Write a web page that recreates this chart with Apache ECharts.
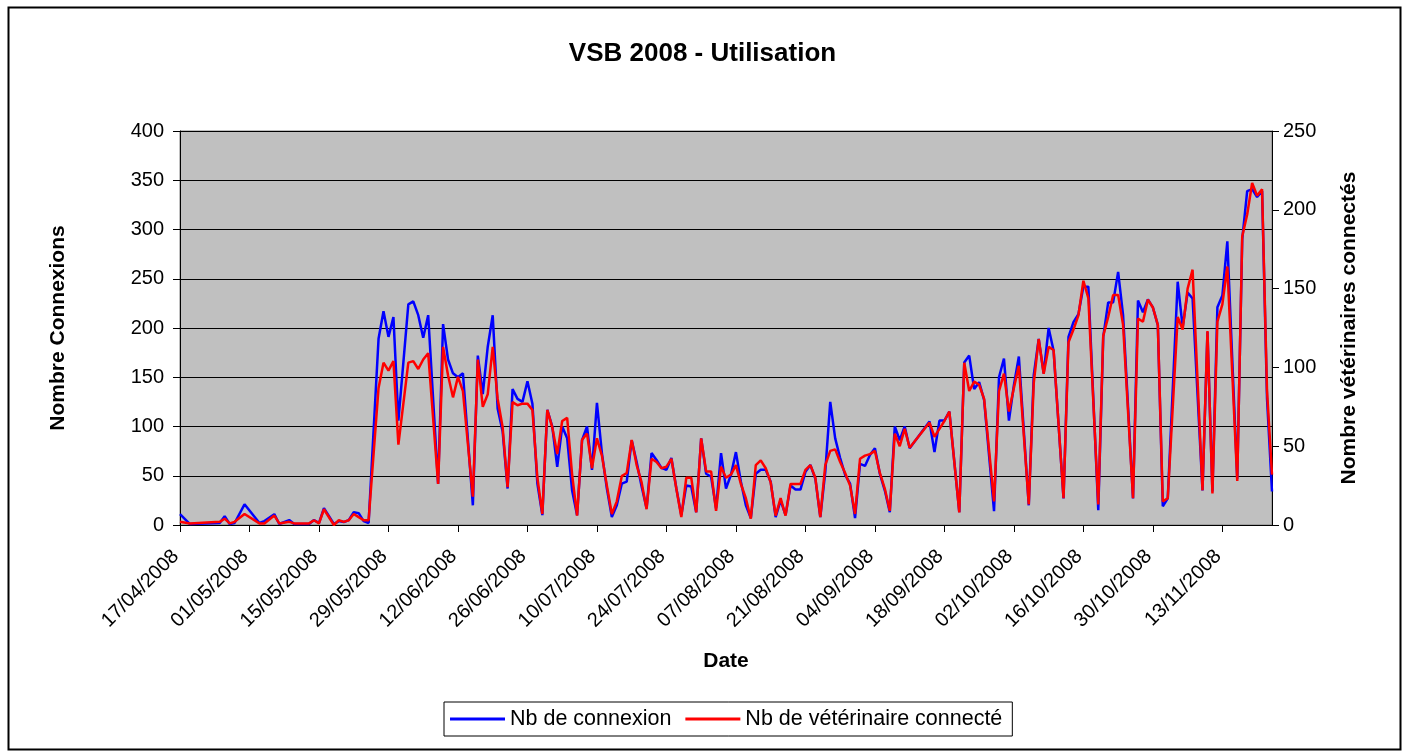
<!DOCTYPE html>
<html>
<head>
<meta charset="utf-8">
<script src="https://cdn.jsdelivr.net/npm/echarts@6/dist/echarts.min.js"></script>
<style>html,body{margin:0;padding:0;background:#fff;}#chart{width:1405px;height:754px;}</style>
</head>
<body>
<div id="chart"></div>
<script>
const startDate = '17/04/2008';
const endDate = '23/11/2008';
const tickIntervalDays = 14;

const dates = [
'17/04/2008','19/04/2008','25/04/2008','26/04/2008','27/04/2008','28/04/2008','30/04/2008',
'03/05/2008','04/05/2008','06/05/2008','07/05/2008','09/05/2008','10/05/2008','13/05/2008','14/05/2008','15/05/2008','16/05/2008','18/05/2008','19/05/2008','20/05/2008','21/05/2008','22/05/2008','23/05/2008','24/05/2008','25/05/2008','27/05/2008','28/05/2008','29/05/2008','30/05/2008','31/05/2008',
'02/06/2008','03/06/2008','04/06/2008','05/06/2008','06/06/2008','08/06/2008','09/06/2008','10/06/2008','11/06/2008','12/06/2008','13/06/2008','15/06/2008','16/06/2008','17/06/2008','18/06/2008','19/06/2008','20/06/2008','21/06/2008','22/06/2008','23/06/2008','24/06/2008','25/06/2008','26/06/2008','27/06/2008','28/06/2008','29/06/2008','30/06/2008',
'01/07/2008','02/07/2008','03/07/2008','04/07/2008','05/07/2008','06/07/2008','07/07/2008','08/07/2008','09/07/2008','10/07/2008','11/07/2008','12/07/2008','13/07/2008','14/07/2008','15/07/2008','16/07/2008','17/07/2008','18/07/2008','19/07/2008','20/07/2008','21/07/2008','22/07/2008','23/07/2008','24/07/2008','25/07/2008','26/07/2008','27/07/2008','28/07/2008','29/07/2008','30/07/2008','31/07/2008',
'01/08/2008','02/08/2008','03/08/2008','04/08/2008','05/08/2008','06/08/2008','07/08/2008','08/08/2008','09/08/2008','10/08/2008','11/08/2008','12/08/2008','13/08/2008','14/08/2008','15/08/2008','16/08/2008','17/08/2008','18/08/2008','19/08/2008','20/08/2008','21/08/2008','22/08/2008','23/08/2008','24/08/2008','25/08/2008','26/08/2008','27/08/2008','28/08/2008','29/08/2008','30/08/2008','31/08/2008',
'01/09/2008','02/09/2008','03/09/2008','04/09/2008','05/09/2008','06/09/2008','07/09/2008','08/09/2008','09/09/2008','10/09/2008','11/09/2008','15/09/2008','16/09/2008','17/09/2008','18/09/2008','19/09/2008','21/09/2008','22/09/2008','23/09/2008','24/09/2008','25/09/2008','26/09/2008','28/09/2008','29/09/2008','30/09/2008',
'01/10/2008','02/10/2008','03/10/2008','05/10/2008','06/10/2008','07/10/2008','08/10/2008','09/10/2008','10/10/2008','12/10/2008','13/10/2008','14/10/2008','15/10/2008','16/10/2008','17/10/2008','19/10/2008','20/10/2008','21/10/2008','22/10/2008','23/10/2008','24/10/2008','26/10/2008','27/10/2008','28/10/2008','29/10/2008','30/10/2008','31/10/2008',
'01/11/2008','02/11/2008','04/11/2008','05/11/2008','06/11/2008','07/11/2008','09/11/2008','10/11/2008','11/11/2008','12/11/2008','13/11/2008','14/11/2008','16/11/2008','17/11/2008','18/11/2008','19/11/2008','20/11/2008','21/11/2008','22/11/2008','23/11/2008'
];

const connexions = [
11,1,2,9,1,2,21,
2,4,11,1,5,1,1,5,2,17,1,4,3,5,13,12,4,2,189,217,191,211,106,
224,227,213,190,213,42,204,168,154,150,154,20,172,133,181,213,118,95,37,138,128,125,146,123,42,10,117,
100,59,100,88,35,10,86,100,56,124,73,37,8,20,42,44,86,64,39,17,73,66,58,56,68,37,10,40,39,13,88,
52,49,17,73,37,51,74,44,20,7,52,56,56,44,8,25,10,40,36,36,54,61,47,8,54,125,88,68,51,42,7,
62,60,71,78,52,35,13,100,86,100,78,105,74,106,106,115,13,165,172,138,145,127,14,150,169,
106,142,171,20,152,189,154,200,177,27,191,206,214,242,242,15,191,226,226,257,213,27,228,216,229,221,203,
19,27,247,201,236,230,35,196,34,221,233,288,47,290,339,341,333,339,128,34
];

const veterinaires = [
2,1,2,4,1,2,7,
1,1,6,1,2,1,1,3,1,10,0,3,2,3,7,5,3,3,87,103,98,104,51,
103,104,99,105,109,26,113,95,81,94,85,18,105,75,83,113,80,62,24,78,76,77,77,73,30,7,73,
62,45,66,68,32,6,54,58,36,55,44,25,7,15,31,33,54,38,27,10,42,40,36,37,42,23,5,30,30,8,55,
34,34,9,37,30,32,38,26,17,4,38,41,36,27,6,17,6,26,26,26,35,38,30,5,38,47,48,40,33,25,7,
42,44,45,47,33,23,9,58,50,61,49,65,56,61,66,72,8,103,85,91,89,80,15,85,96,
72,87,101,13,90,118,96,113,111,17,116,124,133,155,144,13,120,132,146,146,127,17,131,129,143,138,127,
15,17,132,124,150,162,22,123,20,129,140,164,28,183,197,217,209,213,85,32
];

const leftTicks = {min: 0, max: 400, interval: 50};
const rightTicks = {min: 0, max: 250, interval: 50};

function parseDate(s) { const p = s.split('/').map(Number); return Date.UTC(p[2], p[1] - 1, p[0]); }
const t0 = parseDate(startDate);
function dayIndex(s) { return Math.round((parseDate(s) - t0) / 864e5); }
function pad(n) { return (n < 10 ? '0' : '') + n; }
function dayLabel(v) {
  const d = new Date(t0 + v * 864e5);
  return pad(d.getUTCDate()) + '/' + pad(d.getUTCMonth() + 1) + '/' + d.getUTCFullYear();
}

const blueData = dates.map((d, i) => [dayIndex(d), connexions[i]]);
const redData = dates.map((d, i) => [dayIndex(d), veterinaires[i]]);

const FONT = 'Liberation Sans, Arial, sans-serif';
const chart = echarts.init(document.getElementById('chart'), null, {renderer: 'canvas'});
chart.setOption({
  animation: false,
  backgroundColor: '#ffffff',
  textStyle: {fontFamily: FONT, color: '#000'},
  title: {
    text: 'VSB 2008 - Utilisation', left: 'center', top: 41, padding: 0,
    textStyle: {fontFamily: FONT, fontSize: 26, fontWeight: 'bold', color: '#000'}
  },
  graphic: [{
    type: 'rect', left: 6, top: 5, z: 100, silent: true,
    shape: {width: 1392, height: 742},
    style: {fill: 'none', stroke: '#000', lineWidth: 2}
  }],
  legend: {
    left: 444, top: 702, padding: [6, 10, 6, 6],
    icon: 'rect', itemWidth: 55, itemHeight: 3, itemGap: 14,
    borderColor: '#000', borderWidth: 1, backgroundColor: '#fff',
    textStyle: {fontFamily: FONT, fontSize: 21.5, color: '#000'},
    data: ['Nb de connexion', 'Nb de vétérinaire connecté']
  },
  grid: {
    left: 180, right: 133, top: 131, bottom: 229, show: true,
    backgroundColor: '#C0C0C0', borderColor: '#808080', borderWidth: 1
  },
  xAxis: {
    type: 'value', min: 0, max: dayIndex(endDate), interval: tickIntervalDays,
    name: 'Date', nameLocation: 'middle', nameGap: 126,
    nameTextStyle: {fontFamily: FONT, fontSize: 21, fontWeight: 'bold', color: '#000'},
    axisLine: {show: true, lineStyle: {color: '#000', width: 1}},
    axisTick: {show: true, length: 7, lineStyle: {color: '#000'}},
    splitLine: {show: false},
    axisLabel: {
      rotate: 45, fontSize: 20, color: '#000', fontFamily: FONT, margin: 24,
      padding: [0, 6, 0, 0],
      showMaxLabel: false,
      formatter: v => (v % tickIntervalDays === 0 ? dayLabel(v) : '')
    }
  },
  yAxis: [{
    type: 'value', position: 'left', min: leftTicks.min, max: leftTicks.max, interval: leftTicks.interval,
    name: 'Nombre Connexions', nameLocation: 'middle', nameRotate: 90, nameGap: 111,
    nameTextStyle: {fontFamily: FONT, fontSize: 21, fontWeight: 'bold', color: '#000'},
    axisLine: {show: true, lineStyle: {color: '#000', width: 1}},
    axisTick: {show: true, length: 7, lineStyle: {color: '#000'}},
    splitLine: {show: true, lineStyle: {color: '#000', width: 1}},
    axisLabel: {fontSize: 20, color: '#000', fontFamily: FONT, margin: 16}
  }, {
    type: 'value', position: 'right', min: rightTicks.min, max: rightTicks.max, interval: rightTicks.interval,
    name: 'Nombre vétérinaires connectés', nameLocation: 'middle', nameRotate: 90, nameGap: 67,
    nameTextStyle: {fontFamily: FONT, fontSize: 21, fontWeight: 'bold', color: '#000'},
    axisLine: {show: true, lineStyle: {color: '#000', width: 1}},
    axisTick: {show: true, length: 7, lineStyle: {color: '#000'}},
    splitLine: {show: false},
    axisLabel: {fontSize: 20, color: '#000', fontFamily: FONT, margin: 11}
  }],
  series: [{
    name: 'Nb de connexion', type: 'line', yAxisIndex: 0, data: blueData,
    symbol: 'none', showSymbol: false, color: '#0000FF',
    lineStyle: {color: '#0000FF', width: 2.5}, z: 2
  }, {
    name: 'Nb de vétérinaire connecté', type: 'line', yAxisIndex: 1, data: redData,
    symbol: 'none', showSymbol: false, color: '#FF0000',
    lineStyle: {color: '#FF0000', width: 2.5}, z: 3
  }]
});
</script>
</body>
</html>
